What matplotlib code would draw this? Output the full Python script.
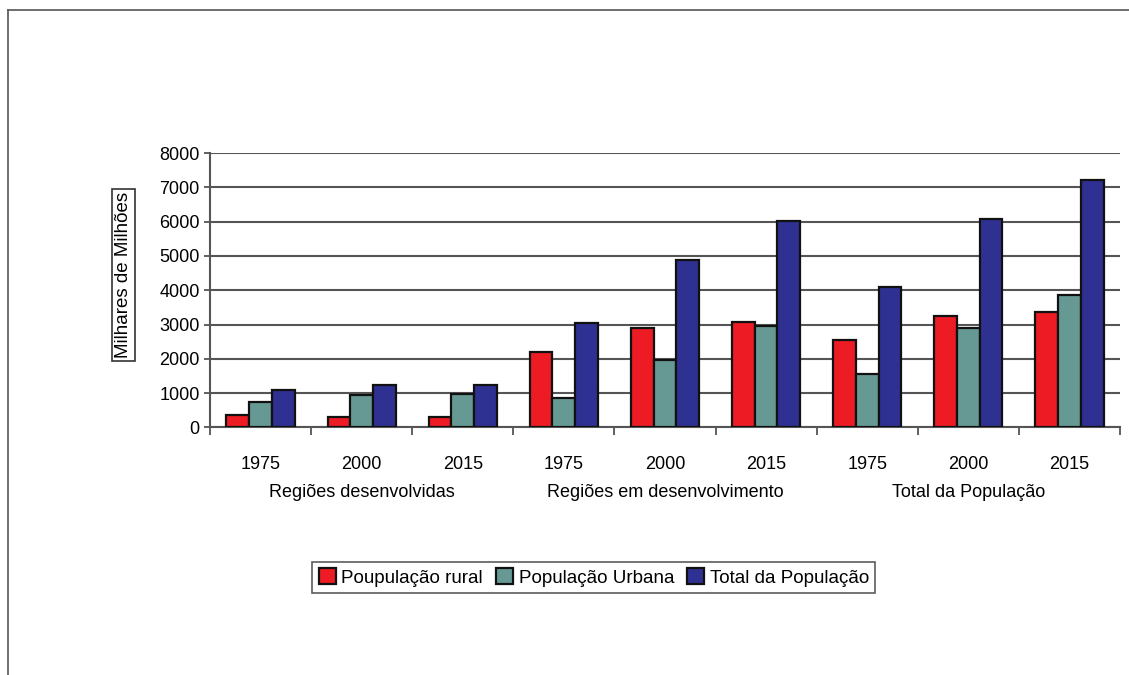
import matplotlib.pyplot as plt
import numpy as np
from matplotlib.lines import Line2D

plt.rcParams['font.family'] = ['Liberation Sans', 'DejaVu Sans']

years = ['1975', '2000', '2015', '1975', '2000', '2015', '1975', '2000', '2015']
groups = ['Regiões desenvolvidas', 'Regiões em desenvolvimento', 'Total da População']
series_names = ['Poupulação rural', 'População Urbana', 'Total da População']

rural = [350, 290, 290, 2210, 2900, 3085, 2550, 3240, 3360]
urbana = [750, 955, 975, 850, 1975, 2965, 1555, 2900, 3865]
total = [1090, 1220, 1220, 3035, 4895, 6015, 4105, 6080, 7230]

colors = ['#ed1c24', '#669993', '#2e3192']

fig = plt.figure(figsize=(11.29, 6.75), dpi=100)
ax = fig.add_axes([0.186, 0.367, 0.806, 0.406])

x = np.arange(len(years))
w = 0.225
for i, (vals, c, name) in enumerate(zip([rural, urbana, total], colors, series_names)):
    ax.bar(x + (i - 1) * w, vals, w, color=c, edgecolor='#111111', linewidth=1.6,
           label=name, zorder=3)

ax.set_xlim(-0.5, len(years) - 0.5)
ax.set_ylim(0, 8000)
ax.set_yticks(range(0, 8001, 1000))
ax.yaxis.grid(True, color='#555555', linewidth=1.5, zorder=0)
ax.set_axisbelow(True)

for s in ['top', 'right']:
    ax.spines[s].set_visible(False)
ax.spines['left'].set_color('#555555')
ax.spines['bottom'].set_color('#555555')
ax.spines['left'].set_linewidth(1.5)
ax.spines['bottom'].set_linewidth(1.5)

ax.set_xticks(x)
ax.set_xticklabels(years, fontsize=13)
ax.set_xticks(np.arange(-0.5, len(years)), minor=True)
ax.tick_params(axis='x', which='major', length=0, pad=21)
ax.tick_params(axis='x', which='minor', length=6, color='#555555', width=1.3)
ax.tick_params(axis='y', length=4, color='#555555', width=1.3, labelsize=13)

for j, g in enumerate(groups):
    ax.text(3 * j + 1, -1900, g, ha='center', va='center', fontsize=13)

ax.text(-0.095, 0.555, 'Milhares de Milhões', transform=ax.transAxes, rotation=90,
        ha='center', va='center', fontsize=13.5,
        bbox=dict(facecolor='white', edgecolor='#333333', linewidth=1.2, pad=2))

leg = fig.legend(loc='center', bbox_to_anchor=(0.526, 0.1445), ncol=3, fontsize=13.5,
                 frameon=True, fancybox=False, edgecolor='#333333',
                 handlelength=0.9, handleheight=0.9, handletextpad=0.3,
                 columnspacing=0.7, borderpad=0.35)
leg.get_frame().set_linewidth(1.2)

# outer frame (left and top edges)
fig.add_artist(Line2D([8 / 1129, 8 / 1129], [0, 1 - 10 / 675], color='#555555', linewidth=1.2))
fig.add_artist(Line2D([8 / 1129, 1], [1 - 10 / 675, 1 - 10 / 675], color='#555555', linewidth=1.2))

fig.savefig('out.png', dpi=100)
